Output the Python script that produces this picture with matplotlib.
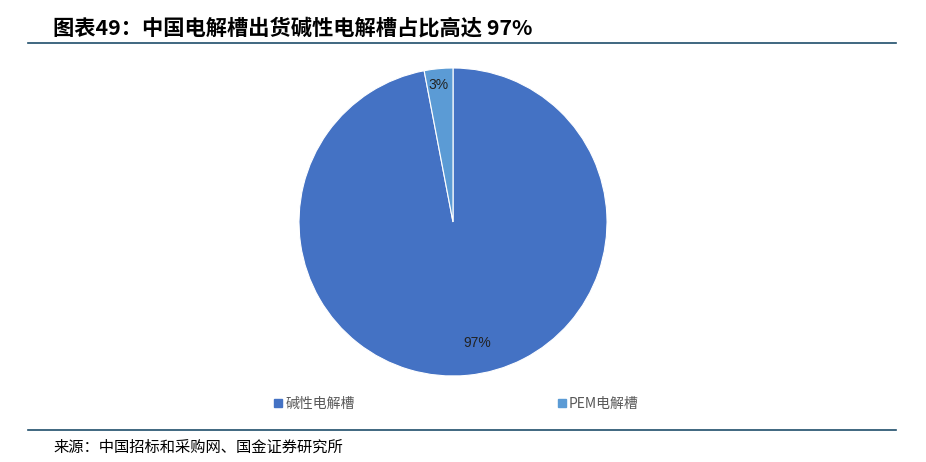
import matplotlib
matplotlib.use('Agg')
import matplotlib.pyplot as plt
from matplotlib.lines import Line2D

plt.rcParams['font.family'] = ['Noto Sans CJK SC', 'DejaVu Sans']

# data
categories = ['碱性电解槽', 'PEM电解槽']
shares = [97, 3]
colors = ['#4472C4', '#5B9BD5']
title = '图表49：中国电解槽出货碱性电解槽占比高达 97%'
source = '来源：中国招标和采购网、国金证券研究所'

W, H = 926, 462
fig = plt.figure(figsize=(W / 100, H / 100), dpi=100)

# pie axes, centre ~(453, 222) px, radius ~154 px
cx, cy, r = 453, 222, 154
ax = fig.add_axes([(cx - r) / W, (H - cy - r) / H, 2 * r / W, 2 * r / H])
wedges, texts, autotexts = ax.pie(shares, colors=colors, startangle=90, counterclock=False,
                                  autopct='%d%%', pctdistance=0.82,
                                  wedgeprops=dict(edgecolor='white', linewidth=0.8),
                                  textprops=dict(fontsize=10, color='#222222', family=['Arial', 'Liberation Sans', 'DejaVu Sans']))
autotexts[0].set_position((0.155, -0.785))
autotexts[1].set_position((-0.095, 0.89))
ax.set_xlim(-1, 1)
ax.set_ylim(-1, 1)
ax.set_aspect('equal')
ax.axis('off')

# legend
handles = [Line2D([], [], marker='s', linestyle='', markersize=6, markerfacecolor=c, markeredgecolor=c)
           for c in colors]
fig.legend(handles, categories, loc='center', bbox_to_anchor=(0.5 - 7.5 / W, (H - 404) / H), ncol=2,
           frameon=False, fontsize=10, labelcolor='#595959', handletextpad=0.1,
           columnspacing=14.5, handlelength=0.8)

# title and rules
fig.text(53 / W, (H - 28) / H, title, fontsize=15.3, fontweight='bold', style='italic',
         va='center', ha='left', color='black')
fig.add_artist(Line2D([28 / W, 896 / W], [(H - 43) / H] * 2, color='#1F4E6B', linewidth=1.2))
fig.add_artist(Line2D([28 / W, 896 / W], [(H - 430) / H] * 2, color='#1F4E6B', linewidth=1.2))
fig.text(53 / W, (H - 447) / H, source, fontsize=11, va='center', ha='left', color='black')

fig.savefig('out.png', dpi=100)
